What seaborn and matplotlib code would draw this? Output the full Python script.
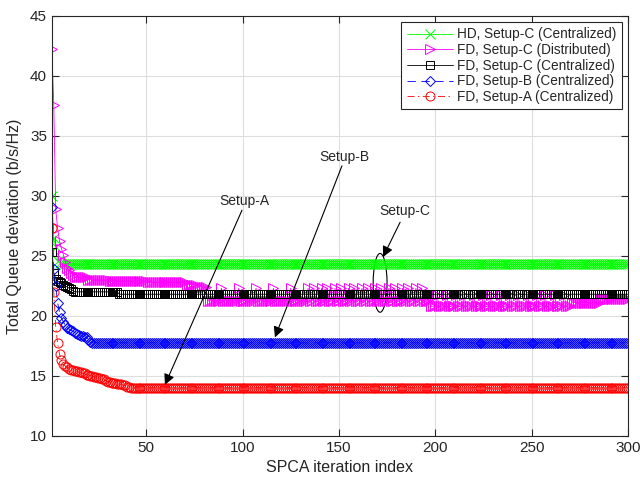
import matplotlib
matplotlib.use("Agg")
import matplotlib.pyplot as plt
from matplotlib.patches import Ellipse
import seaborn as sns
import pandas as pd

# ---------------- data ----------------
iterations = list(range(1, 301))

hd_c_head = [30.0, 26.5, 25.7, 24.6, 24.4]
hd_c_plateau = 24.3

fd_c_dist_head = [42.2, 37.6, 28.9, 27.3, 26.2, 25.6, 25.1, 24.5, 24.0, 23.8, 23.6, 23.4]
fd_c_dist_runs = [(23.2, 7), (23.0, 11), (22.9, 20), (22.8, 20), (22.6, 6), (22.4, 5)]
# (first iter, last iter, base value, peak value, peak iterations)
fd_c_dist_osc = [
    (82, 197, 21.25, 22.3, [89, 98, 107, 116, 125, 134, 137, 141, 144, 148, 151, 155, 158,
                            162, 165, 169, 172, 176, 179, 183, 186, 190, 193]),
    (198, 270, 20.8, 21.7, [201, 206, 211, 215, 220, 225, 229, 234, 239, 243, 248, 253,
                            257, 262, 267]),
    (271, 285, 21.1, 21.1, []),
    (286, 300, 21.4, 21.4, []),
]

fd_c_cent_head = [25.3, 23.6, 23.1, 22.9, 22.8, 22.7, 22.6, 22.5, 22.4, 22.3, 22.2, 22.1]
fd_c_cent_runs = [(22.0, 23), (21.8, 265)]

fd_b_head = [29.1, 23.9, 22.5, 21.1, 20.3, 19.8, 19.5, 19.2, 19.0, 18.9, 18.8, 18.7,
             18.6, 18.5, 18.4, 18.35, 18.3, 18.25, 18.2, 18.0, 17.8]
fd_b_plateau = 17.75

fd_a_head = [27.3, 22.0, 19.1, 17.7, 16.8, 16.3, 16.0, 15.8, 15.7, 15.6, 15.5, 15.5,
             15.4, 15.4, 15.3, 15.3, 15.2, 15.2, 15.1, 15.1, 15.0, 15.0, 14.9, 14.9,
             14.8, 14.8, 14.7, 14.7, 14.6, 14.5, 14.5, 14.4, 14.4, 14.4, 14.3, 14.3,
             14.3, 14.2, 14.2, 14.1, 14.1]
fd_a_plateau = 14.0

labels = ["HD, Setup-C (Centralized)", "FD, Setup-C (Distributed)",
          "FD, Setup-C (Centralized)", "FD, Setup-B (Centralized)",
          "FD, Setup-A (Centralized)"]


def from_runs(runs):
    out = []
    for v, n in runs:
        out += [v] * n
    return out


def pad(head, plateau):
    return head + [plateau] * (len(iterations) - len(head))


hd_c = pad(hd_c_head, hd_c_plateau)
fd_c_dist = fd_c_dist_head + from_runs(fd_c_dist_runs)
for first, last, base, peak, peaks in fd_c_dist_osc:
    for i in range(first, last + 1):
        fd_c_dist.append(peak if i in peaks else base)
fd_c_cent = fd_c_cent_head + from_runs(fd_c_cent_runs)
fd_b = pad(fd_b_head, fd_b_plateau)
fd_a = pad(fd_a_head, fd_a_plateau)

series = [hd_c, fd_c_dist, fd_c_cent, fd_b, fd_a]
for s in series:
    assert len(s) == len(iterations), len(s)

# ---------------- style ----------------
sns.set_style("ticks")
plt.rcParams["font.family"] = ["Liberation Sans", "DejaVu Sans"]
plt.rcParams["xtick.direction"] = "in"
plt.rcParams["ytick.direction"] = "in"
plt.rcParams["path.simplify"] = False
plt.rcParams["lines.scale_dashes"] = False

fig = plt.figure(figsize=(6.4, 4.8), dpi=100)
ax = fig.add_axes([0.081, 0.092, 0.9, 0.875])

styles = [
    dict(color="#00ff00", marker="x", linestyle="-", markersize=6.5),
    dict(color="#ff00ff", marker=">", linestyle="-", markersize=6.5),
    dict(color="black", marker="s", linestyle="-", markersize=6),
    dict(color="#0000ff", marker="D", linestyle=(0, (6, 4)), markersize=5.5),
    dict(color="#ff0000", marker="o", linestyle=(0, (5, 2.5, 1, 2.5)), markersize=6.5),
]

for vals, lab, st in zip(series, labels, styles):
    df = pd.DataFrame({"iter": iterations, "val": vals})
    sns.lineplot(data=df, x="iter", y="val", ax=ax, label=lab,
                 color=st["color"], marker=st["marker"], linestyle=st["linestyle"],
                 markersize=st["markersize"], markerfacecolor="none",
                 markeredgecolor=st["color"], markeredgewidth=0.7, linewidth=0.6,
                 snap=False)

ax.set_xlim(1, 300)
ax.set_ylim(10, 45)
ax.set_xticks([50, 100, 150, 200, 250, 300])
ax.set_yticks([10, 15, 20, 25, 30, 35, 40, 45])
ax.grid(True, color="#dedede", linewidth=0.8)
ax.set_axisbelow(True)
ax.tick_params(axis="both", labelsize=11, colors="#262626", top=True, right=True,
               length=5, width=0.8)
for sp in ax.spines.values():
    sp.set_color("#262626")
    sp.set_linewidth(0.8)
ax.set_xlabel("SPCA iteration index", fontsize=11.5, color="#262626")
ax.set_ylabel("Total Queue deviation (b/s/Hz)", fontsize=11.5, color="#262626", labelpad=6)

leg = ax.legend(loc="upper right", fontsize=9.8, frameon=True, fancybox=False,
                framealpha=1, edgecolor="#262626", handlelength=3.4,
                handletextpad=0.3, labelspacing=0.12, borderpad=0.4,
                borderaxespad=0.45, numpoints=1)
leg.get_frame().set_linewidth(0.8)

# ---------------- annotations ----------------
arrow = dict(arrowstyle="-|>", color="black", lw=0.8, mutation_scale=16,
             shrinkA=0, shrinkB=0)
ax.text(100.7, 29.6, "Setup-A", fontsize=10, ha="center", va="center")
ax.annotate("", xy=(59.7, 14.25), xytext=(99.7, 28.8), arrowprops=arrow)
ax.text(152.7, 33.25, "Setup-B", fontsize=10, ha="center", va="center")
ax.annotate("", xy=(116.8, 18.2), xytext=(151.6, 32.5), arrowprops=arrow)
ax.text(184.4, 28.75, "Setup-C", fontsize=10, ha="center", va="center")
ax.annotate("", xy=(172.9, 24.9), xytext=(181.8, 27.8), arrowprops=arrow)
ax.add_patch(Ellipse((171.4, 22.75), 7.2, 4.9, fill=False, edgecolor="black", lw=0.8))

fig.savefig("out.png", dpi=100)
